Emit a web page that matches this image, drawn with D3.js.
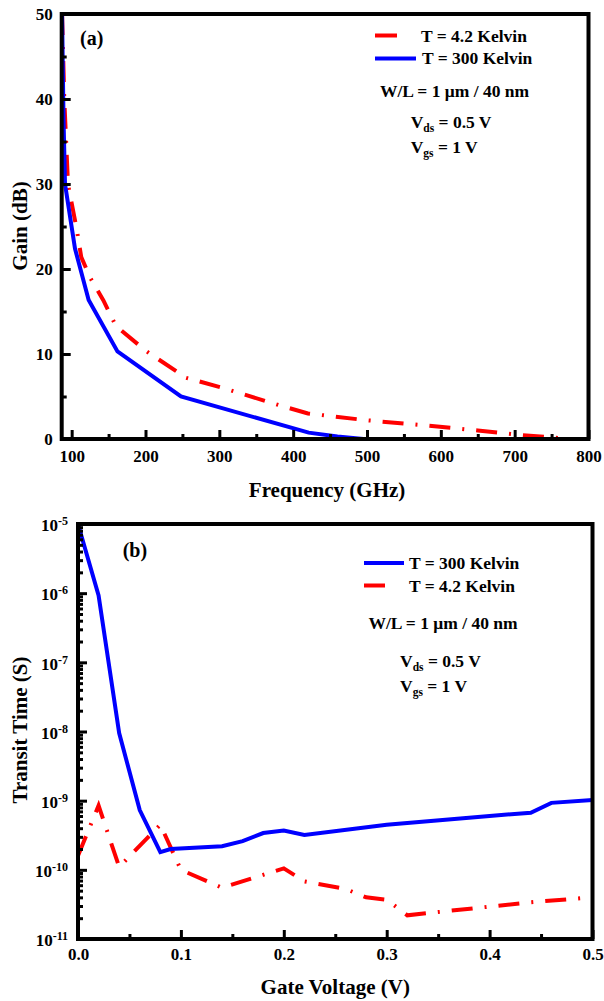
<!DOCTYPE html>
<html>
<head>
<meta charset="utf-8">
<script src="https://cdn.jsdelivr.net/npm/d3@7"></script>
<style>
body { margin: 0; background: #fff; }
text { font-family: "Liberation Serif", "Times New Roman", serif; font-weight: bold; fill: #000; }
</style>
</head>
<body>
<svg id="chart" width="604" height="1001"></svg>
<script>
// panel (a): gain vs frequency
var freqWarm = [87, 89, 91, 104.5, 123, 162, 248, 421, 460, 495];
var gainWarm = [50, 37.5, 30, 22.4, 16.35, 10.3, 5.0, 0.75, 0.3, 0];
var freqCold = [87, 90, 95, 107, 113, 125, 143, 160, 200, 255, 305, 380, 420, 500, 580, 650, 705, 776];
var gainCold = [50, 40, 30, 24.6, 21.4, 19, 16.3, 13.3, 10.4, 7.2, 6.0, 4.0, 3.0, 2.2, 1.6, 1.0, 0.5, 0];
var freqTicks = [100, 200, 300, 400, 500, 600, 700, 800];
var freqMinor = [150, 250, 350, 450, 550, 650, 750];
var gainTicks = [0, 10, 20, 30, 40, 50];
var gainMinor = [5, 15, 25, 35, 45];

// panel (b): transit time vs gate voltage
var vgWarm = [0, 0.02, 0.04, 0.06, 0.08, 0.09, 0.14, 0.16, 0.18, 0.2, 0.22, 0.3, 0.4, 0.44, 0.46, 0.5];
var tauWarm = [1e-5, 9.3e-7, 9.5e-9, 7.3e-10, 1.8e-10, 2.0e-10, 2.2e-10, 2.6e-10, 3.4e-10, 3.7e-10, 3.2e-10, 4.5e-10, 6.0e-10, 6.7e-10, 9.3e-10, 1.02e-9];
var vgCold = [0, 0.02, 0.04, 0.08, 0.1, 0.14, 0.2, 0.22, 0.26, 0.28, 0.3, 0.32, 0.44, 0.5];
var tauCold = [1.6e-10, 8.5e-10, 1.1e-10, 4.5e-10, 1.0e-10, 5.5e-11, 1.05e-10, 6.8e-11, 5.3e-11, 4.0e-11, 3.7e-11, 2.2e-11, 3.4e-11, 4.0e-11];
var vgTicks = [0, 0.1, 0.2, 0.3, 0.4, 0.5];
var vgMinor = [0.05, 0.15, 0.25, 0.35, 0.45];
var tauTicks = [1e-11, 1e-10, 1e-9, 1e-8, 1e-7, 1e-6, 1e-5];

var RED = '#ff0000', BLUE = '#0000ff';
var DASH = '21,12,2,12';

var svg = d3.select('#chart');

function zip(a, b) {
    return a.map(function(v, i) { return [v, b[i]]; });
}

function styleAxis(g) {
    g.select('.domain').remove();
    g.attr('font-family', null).attr('font-size', 17);
    g.selectAll('.tick line').attr('stroke', '#000').attr('stroke-width', 3);
}

function drawPanel(opt) {
    var w = opt.right - opt.left,
        h = opt.bottom - opt.top;
    var g = svg.append('g').attr('transform', 'translate(' + opt.left + ',' + opt.top + ')');
    var x = opt.x.range([0, w]),
        y = opt.y.range([h, 0]);

    var line = d3.line()
        .x(function(d) { return x(d[0]); })
        .y(function(d) { return y(d[1]); });

    // curves, drawn in listed order
    opt.series.forEach(function(s) {
        g.append('path')
            .datum(zip(s.x, s.y))
            .attr('d', line)
            .attr('fill', 'none')
            .attr('stroke', s.color)
            .attr('stroke-width', 4)
            .attr('stroke-dasharray', s.dash || null);
    });

    // minor ticks
    g.append('g').attr('transform', 'translate(0,' + h + ')')
        .call(d3.axisBottom(x).tickValues(opt.xMinor).tickSize(-5).tickFormat(''))
        .call(styleAxis);
    g.append('g')
        .call(d3.axisLeft(y).tickValues(opt.yMinor).tickSize(-5).tickFormat(''))
        .call(styleAxis);

    // major ticks + labels
    g.append('g').attr('transform', 'translate(0,' + h + ')')
        .call(d3.axisBottom(x).tickValues(opt.xTicks).tickSize(-9).tickPadding(opt.xPad).tickFormat(opt.xFormat))
        .call(styleAxis);
    var ya = g.append('g')
        .call(d3.axisLeft(y).tickValues(opt.yTicks).tickSize(-9).tickPadding(opt.yPad).tickFormat(opt.yFormat || null))
        .call(styleAxis);
    if(opt.logLabels) {
        ya.selectAll('.tick text').attr('dy', '0.4em').each(function(d) {
            var t = d3.select(this).text(null);
            t.append('tspan').text('10');
            t.append('tspan').attr('dy', -6).attr('font-size', 12)
                .text(String(Math.round(Math.log10(d))));
        });
    }

    // frame
    g.append('rect')
        .attr('width', w).attr('height', h)
        .attr('fill', 'none').attr('stroke', '#000').attr('stroke-width', 4);

    // axis titles
    svg.append('text')
        .attr('x', opt.left + w / 2 + opt.xTitleShift).attr('y', opt.xTitleY)
        .attr('text-anchor', 'middle').attr('font-size', 21)
        .text(opt.xTitle);
    svg.append('text')
        .attr('transform', 'translate(27,' + opt.yTitleY + ') rotate(-90)')
        .attr('text-anchor', 'middle').attr('font-size', 21)
        .text(opt.yTitle);

    svg.append('text')
        .attr('x', opt.tag[0]).attr('y', opt.tag[1])
        .attr('font-size', 20).text(opt.tag[2]);
}

function legendLine(x0, x1, yy, color) {
    svg.append('line')
        .attr('x1', x0).attr('x2', x1).attr('y1', yy).attr('y2', yy)
        .attr('stroke', color).attr('stroke-width', 4);
}

function legendText(xx, yy, str, anchor) {
    return svg.append('text').attr('x', xx).attr('y', yy)
        .attr('font-size', 17.5).attr('text-anchor', anchor || 'start').text(str);
}

function subText(xx, yy, sub, rest) {
    var t = svg.append('text').attr('x', xx).attr('y', yy).attr('font-size', 17.5);
    t.append('tspan').text('V');
    t.append('tspan').attr('font-size', 11.5).attr('dy', 4).text(sub);
    t.append('tspan').attr('dy', -4).text(' = ' + rest);
}

drawPanel({
    left: 61.7, right: 588.5, top: 14, bottom: 439,
    x: d3.scaleLinear().domain([86.5, 800]),
    y: d3.scaleLinear().domain([0, 50]),
    xTicks: freqTicks, xMinor: freqMinor, xFormat: d3.format('d'), xPad: 11,
    yTicks: gainTicks, yMinor: gainMinor, yFormat: d3.format('d'), yPad: 9,
    series: [
        { x: freqCold, y: gainCold, color: RED, dash: DASH },
        { x: freqWarm, y: gainWarm, color: BLUE }
    ],
    xTitle: 'Frequency (GHz)', xTitleY: 497, xTitleShift: 2,
    yTitle: 'Gain (dB)', yTitleY: 226,
    tag: [80, 45, '(a)']
});

var minorTau = [];
for(var k = -11; k < -5; k++) {
    for(var m = 2; m < 10; m++) minorTau.push(m * Math.pow(10, k));
}

drawPanel({
    left: 78, right: 592.5, top: 524, bottom: 939,
    x: d3.scaleLinear().domain([0, 0.5]),
    y: d3.scaleLog().domain([1e-11, 1e-5]),
    xTicks: vgTicks, xMinor: vgMinor, xFormat: d3.format('.1f'), xPad: 9,
    yTicks: tauTicks, yMinor: minorTau, yPad: 10, logLabels: true,
    series: [
        { x: vgCold, y: tauCold, color: RED, dash: DASH },
        { x: vgWarm, y: tauWarm, color: BLUE }
    ],
    xTitle: 'Gate Voltage (V)', xTitleY: 994, xTitleShift: 0,
    yTitle: 'Transit Time (S)', yTitleY: 730,
    tag: [122.7, 557, '(b)']
});

// legend (a)
legendLine(375, 397, 35.5, RED);
legendText(421, 41.5, 'T = 4.2 Kelvin');
legendLine(375, 416, 58.5, BLUE);
legendText(422, 64, 'T = 300 Kelvin');
legendText(454.5, 96.5, 'W/L = 1 \u03bcm / 40 nm', 'middle');
subText(410.7, 128.3, 'ds', '0.5 V');
subText(410.7, 153.3, 'gs', '1 V');

// legend (b)
legendLine(364, 404, 563, BLUE);
legendText(409, 569, 'T = 300 Kelvin');
legendLine(364, 385, 585.5, RED);
legendText(409, 591.5, 'T = 4.2 Kelvin');
legendText(443, 629.3, 'W/L = 1 \u03bcm / 40 nm', 'middle');
subText(400, 666.7, 'ds', '0.5 V');
subText(400, 691.7, 'gs', '1 V');
</script>
</body>
</html>
